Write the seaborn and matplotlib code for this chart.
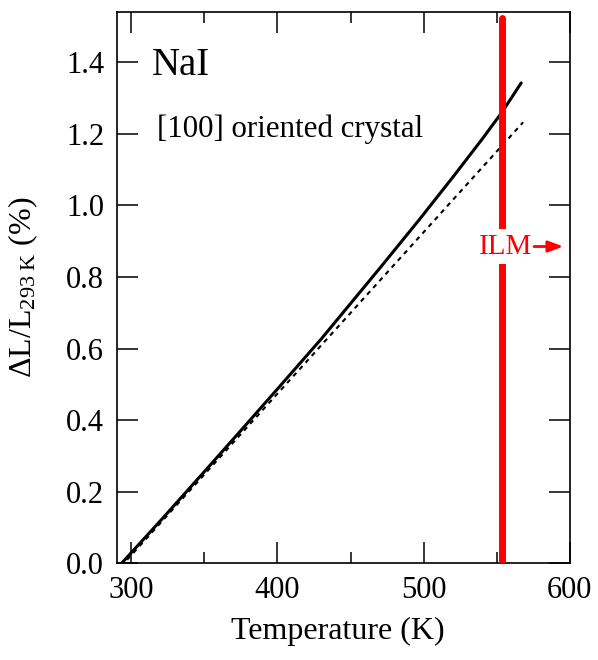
import numpy as np
import pandas as pd
import matplotlib
matplotlib.use("Agg")
import matplotlib.pyplot as plt
import seaborn as sns
from matplotlib.ticker import MultipleLocator

# ---- data ----
temp_meas = [293.4, 320.0, 350.0, 375.0, 400.0, 430.0, 470.3, 496.6, 520.0, 540.0, 553.7, 566.7]
dl_meas = [0.0, 0.119, 0.256, 0.371, 0.487, 0.627, 0.826, 0.958, 1.079, 1.185, 1.261, 1.342]
temp_lin = [293.0, 568.0]
dl_lin = [-0.009, 1.232]
ilm_temp = 553.7
ilm_range = [0.0, 1.522]
ilm_label = "ILM"
ilm_label_level = 0.885

sns.set_theme(style="ticks")
plt.rcParams['font.family'] = ['Liberation Serif', 'DejaVu Serif']
plt.rcParams['mathtext.fontset'] = 'custom'
plt.rcParams['mathtext.rm'] = 'Liberation Serif'
plt.rcParams['mathtext.it'] = 'Liberation Serif:italic'
for k in ['text.color', 'axes.labelcolor', 'xtick.color', 'ytick.color', 'axes.edgecolor']:
    plt.rcParams[k] = 'black'

fig = plt.figure(figsize=(5.98, 6.60), dpi=100)
ax = fig.add_axes([0.195, 0.1465, 0.758, 0.8358])

df_meas = pd.DataFrame({"T": temp_meas, "dL": dl_meas})
df_lin = pd.DataFrame({"T": temp_lin, "dL": dl_lin})

sns.lineplot(data=df_meas, x="T", y="dL", ax=ax, color="black", lw=2.2,
             sort=False, estimator=None)
sns.lineplot(data=df_lin, x="T", y="dL", ax=ax, color="black", lw=1.5,
             sort=False, estimator=None, linestyle=(0, (2.2, 2.2)))

ax.plot([ilm_temp, ilm_temp], ilm_range, color="#ff0000", lw=5,
        solid_capstyle="round", zorder=3)

ax.text(556.0, ilm_label_level, ilm_label, color="#ff0000", fontsize=21, ha="center", va="center",
        bbox=dict(facecolor="white", edgecolor="none", pad=3.0), zorder=4)
ax.annotate("", xy=(595.5, ilm_label_level), xytext=(575.5, ilm_label_level),
            arrowprops=dict(arrowstyle="-|>,head_length=0.75,head_width=0.28",
                            color="#ff0000", lw=2.0, shrinkA=0, shrinkB=0), zorder=5)

ax.text(314.0, 1.363, "NaI", fontsize=28, ha="left", va="baseline")
ax.text(317.6, 1.19, "[100] oriented crystal", fontsize=22.3, ha="left", va="baseline")

ax.set_xlim(290, 600)
ax.set_ylim(0, 1.541)
ax.xaxis.set_major_locator(MultipleLocator(100))
ax.xaxis.set_minor_locator(MultipleLocator(50))
yt = np.arange(0, 1.41, 0.2)
ax.set_yticks(yt)
ax.set_yticklabels([f"{v:.1f}" for v in yt])

ax.tick_params(which="both", direction="in", top=True, right=True, color="black",
               labelsize=22, width=1.1)
ax.tick_params(which="major", length=15, pad=9)
ax.tick_params(which="minor", length=8)
for s in ax.spines.values():
    s.set_linewidth(1.2)
    s.set_color("black")

ax.set_xlabel("Temperature (K)", fontsize=23)
ax.set_ylabel(r"$\Delta$L/L$_{\rm 293\ K}$ (%)", fontsize=23)
ax.xaxis.set_label_coords(0.488, -0.098)
ax.yaxis.set_label_coords(-0.168, 0.5)

fig.savefig("out.png", dpi=100)
